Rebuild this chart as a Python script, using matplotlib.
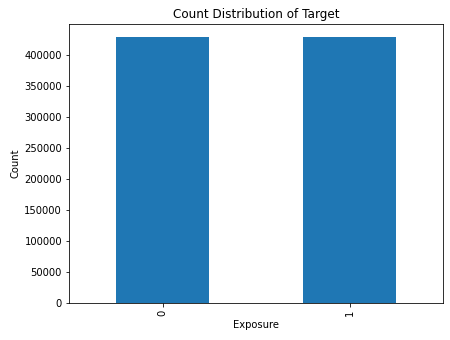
import matplotlib
matplotlib.use("Agg")
import matplotlib.pyplot as plt
import numpy as np

categories = ["0", "1"]
counts = [428000, 428000]

dpi = 72
fig, ax = plt.subplots(figsize=(450 / dpi, 340 / dpi), dpi=dpi)
x = np.arange(len(categories))
ax.bar(x, counts, width=0.5, color="#1f77b4")
ax.set_xticks(x)
ax.set_xticklabels(categories, rotation=90)
ax.set_xlim(-0.5, 1.5)
ax.set_xlabel("Exposure")
ax.set_ylabel("Count")
ax.set_title("Count Distribution of Target")
fig.subplots_adjust(left=69 / 450, right=443 / 450, top=1 - 24 / 340, bottom=1 - 303 / 340)
fig.savefig("out.png", dpi=dpi)
